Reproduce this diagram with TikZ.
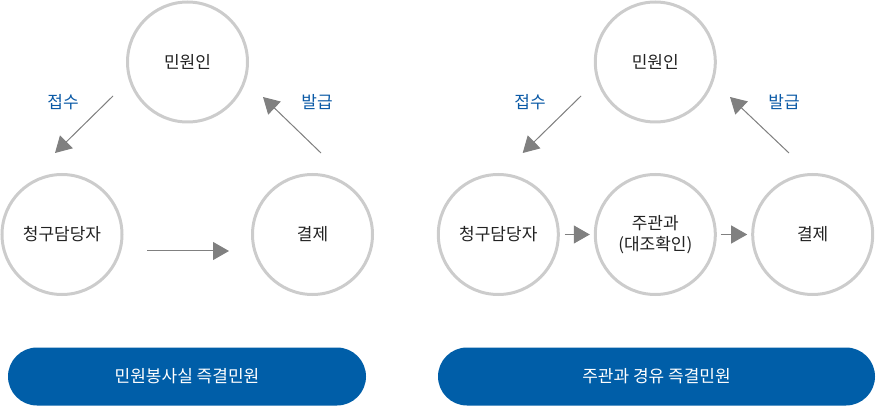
\documentclass[tikz,border=0pt]{standalone}
\usepackage{fontspec}
\setmainfont{Noto Sans CJK KR}
\usetikzlibrary{arrows.meta}
\definecolor{ringgray}{HTML}{CCCCCC}
\definecolor{arrowgray}{HTML}{808080}
\definecolor{labelblue}{HTML}{0B5AA6}
\definecolor{pillblue}{HTML}{005EA8}
\definecolor{textdark}{HTML}{222222}

\tikzset{
  ring/.style={circle, draw=ringgray, line width=3pt, minimum size=120pt, inner sep=0pt,
    text=textdark, font=\fontsize{17pt}{21pt}\selectfont, align=center},
  flowarrow/.style={draw=arrowgray, fill=arrowgray, line width=1pt, -{Triangle[length=16pt,width=18pt]}},
  steplabel/.style={text=labelblue, font=\fontsize{17pt}{20pt}\selectfont},
  pill/.style={fill=pillblue, rounded corners=29pt, minimum width=358pt, minimum height=58pt,
    text=white, font=\fontsize{17pt}{20pt}\selectfont}
}

\begin{document}
\begin{tikzpicture}[x=1pt, y=-1pt]
\useasboundingbox (0,0) rectangle (876,406);

% left: 민원봉사실 즉결민원
\node[ring] (civilL) at (187.5,62) {민원인};
\node[ring] (claimL) at (62,234.5) {청구담당자};
\node[ring] (payL) at (312.5,234.5) {결제};
\coordinate (recvL1) at (113,96);
\coordinate (recvL2) at (55,153);
\coordinate (issueL1) at (321,153);
\coordinate (issueL2) at (263,97);
\coordinate (midL1) at (147,251);
\coordinate (midL2) at (229,251);
\draw[flowarrow] (recvL1) -- (recvL2);
\draw[flowarrow] (issueL1) -- (issueL2);
\draw[flowarrow] (midL1) -- (midL2);
\node[steplabel] (recvLabelL) at (63,102) {접수};
\node[steplabel] (issueLabelL) at (317,102) {발급};
\node[pill] (titleL) at (187,376.5) {민원봉사실 즉결민원};

% right: 주관과 경유 즉결민원
\node[ring] (civilR) at (655.3,62) {민원인};
\node[ring] (claimR) at (498.3,234.5) {청구담당자};
\node[ring] (deptR) at (655.3,234.5) {주관과\\(대조확인)};
\node[ring] (payR) at (812.7,234.5) {결제};
\coordinate (recvR1) at (581,96);
\coordinate (recvR2) at (522.7,153);
\coordinate (issueR1) at (789,153);
\coordinate (issueR2) at (730,97);
\draw[flowarrow] (recvR1) -- (recvR2);
\draw[flowarrow] (issueR1) -- (issueR2);
\draw[flowarrow] ([xshift=5pt]claimR.east) -- ([xshift=-4pt]deptR.west);
\draw[flowarrow] ([xshift=4pt]deptR.east) -- ([xshift=-4pt]payR.west);
\node[steplabel] (recvLabelR) at (530,102) {접수};
\node[steplabel] (issueLabelR) at (784,102) {발급};
\node[pill, minimum width=437pt] (titleR) at (656.5,376.5) {주관과 경유 즉결민원};
\end{tikzpicture}
\end{document}
